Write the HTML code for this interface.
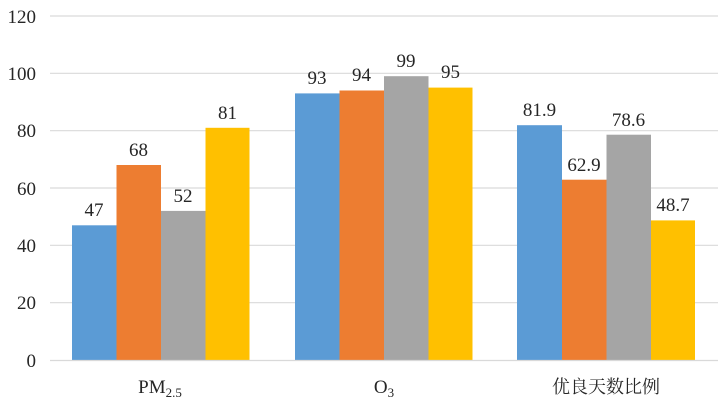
<!DOCTYPE html>
<html><head><meta charset="utf-8"><style>
html,body{margin:0;padding:0;background:#fff;}
svg{display:block;}
text{font-family:"Liberation Serif","Noto Serif CJK SC",serif;fill:#262626;}
</style></head><body>
<svg width="720" height="405" viewBox="0 0 720 405" xmlns="http://www.w3.org/2000/svg">
<g stroke="#d9d9d9" stroke-width="1.2">
<line x1="50" x2="718" y1="16" y2="16"/>
<line x1="50" x2="718" y1="73.3" y2="73.3"/>
<line x1="50" x2="718" y1="130.7" y2="130.7"/>
<line x1="50" x2="718" y1="188" y2="188"/>
<line x1="50" x2="718" y1="245.3" y2="245.3"/>
<line x1="50" x2="718" y1="302.7" y2="302.7"/>
</g>
<g font-size="19" text-anchor="end">
<text x="36" y="23">120</text>
<text x="36" y="80">100</text>
<text x="36" y="137">80</text>
<text x="36" y="195">60</text>
<text x="36" y="252">40</text>
<text x="36" y="309">20</text>
<text x="36" y="367">0</text>
</g>
<rect x="72" y="225.3" width="44.5" height="134.7" fill="#5b9bd5"/>
<rect x="116.5" y="165" width="44.5" height="195" fill="#ed7d31"/>
<rect x="161" y="210.9" width="44.5" height="149.1" fill="#a5a5a5"/>
<rect x="205.5" y="127.8" width="44" height="232.2" fill="#ffc000"/>
<rect x="295" y="93.4" width="44.5" height="266.6" fill="#5b9bd5"/>
<rect x="339.5" y="90.5" width="44.5" height="269.5" fill="#ed7d31"/>
<rect x="384" y="76.2" width="44.5" height="283.8" fill="#a5a5a5"/>
<rect x="428.5" y="87.6" width="44" height="272.4" fill="#ffc000"/>
<rect x="517" y="125.2" width="45" height="234.8" fill="#5b9bd5"/>
<rect x="562" y="179.7" width="44.5" height="180.3" fill="#ed7d31"/>
<rect x="606.5" y="134.7" width="44.5" height="225.3" fill="#a5a5a5"/>
<rect x="651" y="220.4" width="44" height="139.6" fill="#ffc000"/>
<line x1="50" x2="718" y1="360.5" y2="360.5" stroke="#d9d9d9" stroke-width="1.2"/>
<g font-size="19" text-anchor="middle">
<text x="94" y="216">47</text>
<text x="138.5" y="156">68</text>
<text x="183" y="202">52</text>
<text x="227.5" y="119">81</text>
<text x="317" y="84">93</text>
<text x="361.5" y="81">94</text>
<text x="406" y="67">99</text>
<text x="450.5" y="78">95</text>
<text x="539.5" y="116">81.9</text>
<text x="584" y="171">62.9</text>
<text x="628.5" y="126">78.6</text>
<text x="673" y="211">48.7</text>
</g>
<text x="160" y="393" font-size="19" text-anchor="middle">PM<tspan font-size="13" dy="4">2.5</tspan></text>
<text x="384" y="393" font-size="19" text-anchor="middle">O<tspan font-size="13" dy="4">3</tspan></text>
<text x="606" y="393" font-size="18" text-anchor="middle" style="font-family:'Noto Serif CJK SC',serif">优良天数比例</text>
</svg>
</body></html>
